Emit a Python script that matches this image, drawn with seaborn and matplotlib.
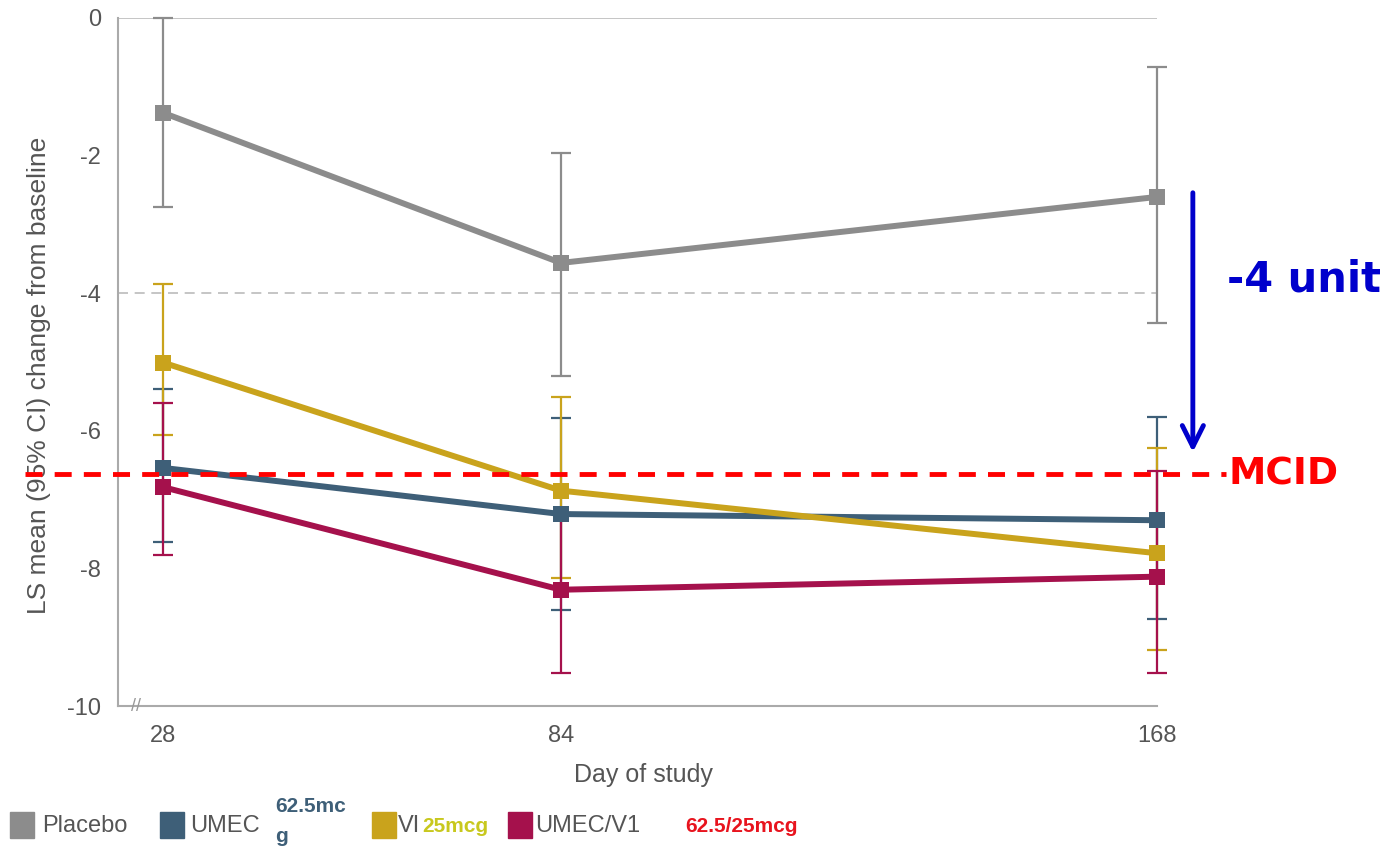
import pandas as pd
import matplotlib
matplotlib.use("Agg")
import matplotlib.pyplot as plt
import seaborn as sns

# ---------------- DATA ----------------
days = [28, 84, 168]
groups = ["Placebo", "UMEC", "VI", "UMEC/V1"]

placebo_mean = [-1.38, -3.56, -2.60]
placebo_lo = [-2.75, -5.20, -4.43]
placebo_hi = [0.00, -1.96, -0.71]

umec_mean = [-6.54, -7.21, -7.30]
umec_lo = [-7.62, -8.60, -8.74]
umec_hi = [-5.39, -5.81, -5.80]

vi_mean = [-5.01, -6.87, -7.78]
vi_lo = [-6.06, -8.14, -9.19]
vi_hi = [-3.87, -5.51, -6.25]

uv_mean = [-6.82, -8.31, -8.12]
uv_lo = [-7.80, -9.52, -9.52]
uv_hi = [-5.60, -7.20, -6.58]

mcid = -6.63
ref_line = -4
arrow_from, arrow_to = -2.5, -6.35

y_ticks = [0, -2, -4, -6, -8, -10]

colors = ["#8c8c8c", "#3e5f78", "#c9a31c", "#a5114c"]

rows = []
for g, m, lo, hi in zip(groups,
                        [placebo_mean, umec_mean, vi_mean, uv_mean],
                        [placebo_lo, umec_lo, vi_lo, uv_lo],
                        [placebo_hi, umec_hi, vi_hi, uv_hi]):
    for d, a, b, c in zip(days, m, lo, hi):
        rows.append({"Group": g, "Day": d, "Mean": a, "Lo": b, "Hi": c})
df = pd.DataFrame(rows)

# ---------------- PLOT ----------------
sns.set_style("white")
plt.rcParams['font.family'] = ['Liberation Sans', 'DejaVu Sans']

fig = plt.figure(figsize=(13.94, 8.46), dpi=100)
ax = fig.add_axes([118 / 1394, 140 / 846, (1168 - 118) / 1394, 688 / 846])

grey_txt = "#555555"

# reference lines
ax.hlines(0, 21.6, 168, color="#bbbbbb", lw=1.2, zorder=0)
ax.hlines(ref_line, 21.6, 168, color="#bbbbbb", lw=1.2, ls=(0, (6, 4)), zorder=0)

# error bars
for g, col in zip(groups, colors):
    sub = df[df["Group"] == g]
    ax.errorbar(sub["Day"], sub["Mean"],
                yerr=[sub["Mean"] - sub["Lo"], sub["Hi"] - sub["Mean"]],
                fmt="none", ecolor=col, elinewidth=1.6, capsize=7, capthick=1.6,
                zorder=2, clip_on=False)

sns.lineplot(data=df, x="Day", y="Mean", hue="Group", palette=colors,
             marker="s", markersize=12, markeredgewidth=0, linewidth=4.3,
             legend=False, ax=ax, zorder=3)

ax.set_xlim(21.6, 169.5)
ax.set_ylim(-10, 0)
ax.set_xticks(days)
ax.set_xticklabels([str(d) for d in days])
ax.set_yticks(y_ticks)
ax.set_yticklabels([str(t) for t in y_ticks])
ax.tick_params(axis="y", direction="in", length=14, color="#aaaaaa",
               labelsize=17, labelcolor=grey_txt, pad=12)
ax.tick_params(axis="x", direction="in", length=14, color="#aaaaaa",
               labelsize=17, labelcolor=grey_txt, pad=14)

for s in ["top", "right"]:
    ax.spines[s].set_visible(False)
ax.spines["left"].set_color("#aaaaaa")
ax.spines["bottom"].set_color("#aaaaaa")
ax.spines["left"].set_linewidth(1.5)
ax.spines["bottom"].set_linewidth(1.5)
ax.spines["bottom"].set_bounds(21.6, 168)

ax.set_xlabel("Day of study", fontsize=18, color=grey_txt, labelpad=11)
ax.set_ylabel("LS mean (95% CI) change from baseline", fontsize=19,
              color=grey_txt)
ax.yaxis.set_label_coords(-0.064, 0.48)

# axis break mark
ax.text(24.2, -10, "//", fontsize=13, color="#999999", ha="center",
        va="center", clip_on=False)

# MCID line and annotation
ax.plot([8.5, 177.6], [mcid, mcid], color="#ff0000", lw=3.5,
        ls=(0, (3.5, 2.5)), clip_on=False, zorder=4)
bold = ['DejaVu Sans']
ax.text(178, mcid, "MCID", color="#ff0000", fontsize=27, fontweight="bold",
        family=bold, va="center", ha="left", clip_on=False)
ax.annotate("", xy=(173, arrow_to), xytext=(173, arrow_from),
            arrowprops=dict(arrowstyle="->", color="#0000cc", lw=3.5,
                            mutation_scale=38),
            annotation_clip=False)
ax.text(177.8, -3.8, "-4 unit", color="#0000cc", fontsize=30,
        fontweight="bold", family=bold, va="center", ha="left", clip_on=False)

# ---------------- LEGEND ----------------
def square(x, col):
    fig.patches.append(plt.Rectangle((x / 1394, (846 - 838) / 846), 24 / 1394,
                                     26 / 846, transform=fig.transFigure,
                                     color=col))

leg_y = (846 - 826) / 846
square(10, colors[0])
fig.text(42 / 1394, leg_y, "Placebo", fontsize=17, color=grey_txt, va="center")
square(160, colors[1])
fig.text(190 / 1394, leg_y, "UMEC", fontsize=17, color=grey_txt, va="center")
fig.text(275 / 1394, (846 - 806) / 846, "62.5mc", fontsize=15, color="#3e5f78",
         fontweight="bold", va="center")
fig.text(275 / 1394, (846 - 836) / 846, "g", fontsize=15, color="#3e5f78",
         fontweight="bold", va="center")
square(372, colors[2])
fig.text(398 / 1394, leg_y, "VI", fontsize=17, color=grey_txt, va="center")
fig.text(422 / 1394, leg_y, "25mcg", fontsize=15, color="#c8c81e",
         fontweight="bold", va="center")
square(508, colors[3])
fig.text(535 / 1394, leg_y, "UMEC/V1", fontsize=17, color=grey_txt, va="center")
fig.text(685 / 1394, leg_y, "62.5/25mcg", fontsize=15, color="#e8141e",
         fontweight="bold", va="center")

fig.savefig("out.png", dpi=100)
